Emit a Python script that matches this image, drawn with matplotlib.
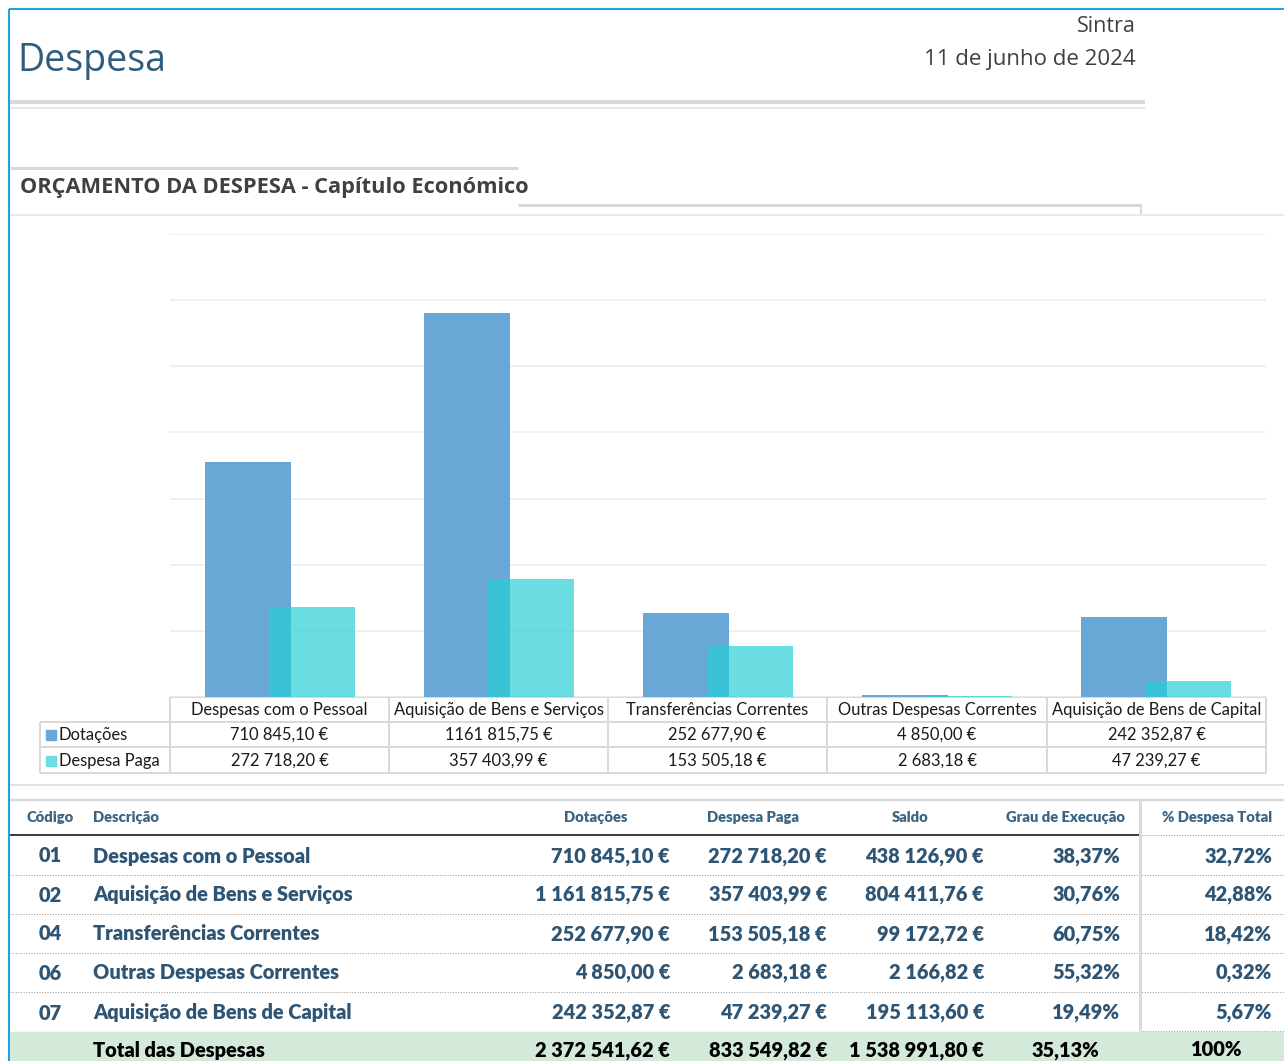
import matplotlib.pyplot as plt
import numpy as np

W, H = 1284, 1061

categorias = ["Despesas com o Pessoal", "Aquisição de Bens e Serviços",
              "Transferências Correntes", "Outras Despesas Correntes",
              "Aquisição de Bens de Capital"]
codigos = ["01", "02", "04", "06", "07"]
dotacoes = [710845.10, 1161815.75, 252677.90, 4850.00, 242352.87]
despesa_paga = [272718.20, 357403.99, 153505.18, 2683.18, 47239.27]
saldo = [438126.90, 804411.76, 99172.72, 2166.82, 195113.60]
grau_execucao = [38.37, 30.76, 60.75, 55.32, 19.49]
pct_despesa = [32.72, 42.88, 18.42, 0.32, 5.67]
total_dotacoes = 2372541.62
total_paga = 833549.82
total_saldo = 1538991.80
total_grau = 35.13
total_pct = 100

AZUL = '#68A7D6'
CIANO = '#27CFD6'
TITULO = '#2F5D7E'
TABELA = '#2F5574'
CINZA = '#D9D9D9'
FONTE = 'Lato'
PESO = 800
TAM = 14.4


def eur(v):
    s = f"{v:,.2f}".replace(",", " ").replace(".", ",")
    return s + " €"


def eur_grafico(v):
    # the chart's format only groups the last thousands ("1161 815,75 €")
    inteiro, dec = f"{v:.2f}".split(".")
    if len(inteiro) > 3:
        inteiro = inteiro[:-3] + " " + inteiro[-3:]
    return f"{inteiro},{dec} €"


def pct(v):
    return f"{v:.2f}%".replace(".", ",")


fig = plt.figure(figsize=(W / 100, H / 100), dpi=100)
bg = fig.add_axes([0, 0, 1, 1])
bg.set_xlim(0, W)
bg.set_ylim(H, 0)
bg.axis('off')


def linha(x0, x1, y0, y1, cor=CINZA, px=1.0, ls='-'):
    bg.plot([x0, x1], [y0, y1], color=cor, lw=px * 0.72, ls=ls,
            solid_capstyle='butt')


# page frame
linha(9, 9, 9, H, cor='#1CA4DC', px=2)
linha(9, W, 9, 9, cor='#1CA4DC', px=2)

# header
bg.text(17, 61, "Despesa", fontsize=27, color=TITULO, family='Open Sans',
        va='center', ha='left')
bg.text(1136, 26, "Sintra", fontsize=15.5, color='#404040', family='Open Sans',
        va='center', ha='right')
bg.text(1136, 59, "11 de junho de 2024", fontsize=16, color='#404040',
        family='Open Sans', va='center', ha='right')
linha(10, 1145, 102, 102, px=4)
linha(10, 1145, 108, 108, cor='#E6E6E6', px=2)

# section title
linha(10, 518, 168, 168, px=3)
bg.text(20, 187, "ORÇAMENTO DA DESPESA - Capítulo Económico", fontsize=15.7,
        color='#404040', family='Open Sans', weight='bold', va='center')
linha(518, 1141, 205, 205, px=3)
linha(1141, 1141, 204, 214, px=2)
linha(10, W, 215, 215, cor='#E3E3E3', px=1.5)

# chart
ax = fig.add_axes([170 / W, 1 - 697 / H, 1096 / W, 463 / H])
x = np.arange(len(categorias))
ax.bar(x - 0.146, dotacoes, 0.393, color=AZUL, zorder=2)
ax.bar(x + 0.146, despesa_paga, 0.393, color=CIANO, alpha=0.69, zorder=3)
ax.set_xlim(-0.5, len(categorias) - 0.5)
ax.set_ylim(0, 1400000)
ax.set_yticks(np.arange(0, 1400001, 200000))
ax.grid(axis='y', color='#EEEEEE', lw=1.2)
ax.set_axisbelow(True)
ax.tick_params(left=False, bottom=False, labelleft=False, labelbottom=False)
for s in ax.spines.values():
    s.set_visible(False)
ax.patch.set_alpha(0)

# chart data table
col_x = [170, 389, 608, 827, 1047, 1266]
linha(170, 1266, 697, 697, px=2)
linha(40, 1266, 722, 722, px=2)
linha(40, 1266, 747, 747, px=2)
linha(40, 1266, 773, 773, px=2)
linha(40, 40, 722, 773, px=2)
for cx in col_x:
    linha(cx, cx, 697, 773, px=2)
for i, cat in enumerate(categorias):
    xc = (col_x[i] + col_x[i + 1]) / 2
    bg.text(xc, 710, cat, fontsize=11.9, family=FONTE, color='#1A1A1A',
            ha='center', va='center')
    bg.text(xc, 735, eur_grafico(dotacoes[i]), fontsize=11.9, family=FONTE,
            color='#1A1A1A', ha='center', va='center')
    bg.text(xc, 761, eur_grafico(despesa_paga[i]), fontsize=11.9, family=FONTE,
            color='#1A1A1A', ha='center', va='center')
for y, nome, cor in [(735, "Dotações", AZUL), (761, "Despesa Paga", '#6ADEE3')]:
    bg.add_patch(plt.Rectangle((46, y - 5), 10, 10, color=cor))
    bg.text(59, y, nome, fontsize=11.9, family=FONTE, color='#1A1A1A',
            ha='left', va='center')

linha(10, W, 785, 785, px=1.5)

# summary table
linha(10, W, 800, 800, px=2.5)
cab_y = 818
for xc, txt in [(50, "Código"), (93, "Descrição"), (596, "Dotações"),
                (753, "Despesa Paga"), (910, "Saldo"),
                (1065, "Grau de Execução"), (1217, "% Despesa Total")]:
    bg.text(xc, cab_y, txt, fontsize=10.6, family=FONTE, weight=PESO,
            color='#3A6585', ha='left' if txt == "Descrição" else 'center',
            va='center')
linha(10, 1139, 835, 835, cor='black', px=1.5)
linha(1142, W, 835, 835, cor='#9A9A9A', px=1, ls=':')

linha_y = [856, 895, 934, 973, 1013]
for i, y in enumerate(linha_y):
    bg.text(50, y, codigos[i], fontsize=TAM, family=FONTE, weight=PESO,
            color=TABELA, ha='center', va='center')
    bg.text(93, y, categorias[i], fontsize=TAM, family=FONTE, weight=PESO,
            color=TABELA, ha='left', va='center')
    for xr, txt in [(670, eur(dotacoes[i])), (827, eur(despesa_paga[i])),
                    (984, eur(saldo[i])), (1120, pct(grau_execucao[i])),
                    (1272, pct(pct_despesa[i]))]:
        bg.text(xr, y, txt, fontsize=TAM, family=FONTE, weight=PESO,
                color=TABELA, ha='right', va='center')
    if i < len(linha_y) - 1:
        linha(10, W, y + 19, y + 19, cor='#9A9A9A', px=1, ls=':')
linha(1142, W, 1031, 1031, cor='#9A9A9A', px=1, ls=':')
linha(1140, 1140, 800, 1031, px=3)

# total row
bg.add_patch(plt.Rectangle((10, 1032), W - 10, H - 1032, color='#D3EADB'))
ty = 1050
bg.text(93, ty, "Total das Despesas", fontsize=TAM, family=FONTE,
        weight=PESO, color='black', ha='left', va='center')
for xr, txt in [(670, eur(total_dotacoes)), (827, eur(total_paga)),
                (984, eur(total_saldo))]:
    bg.text(xr, ty, txt, fontsize=TAM, family=FONTE, weight=PESO,
            color='black', ha='right', va='center')
bg.text(1065, ty, pct(total_grau), fontsize=TAM, family=FONTE, weight=PESO,
        color='black', ha='center', va='center')
bg.text(1217, ty, f"{total_pct}%", fontsize=TAM, family=FONTE, weight=PESO,
        color='black', ha='center', va='center')

fig.savefig("out.png", dpi=100)
